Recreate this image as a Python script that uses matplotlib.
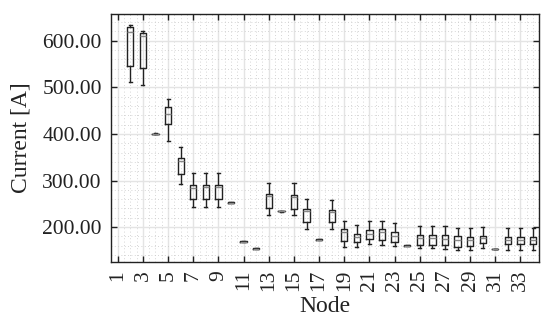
import matplotlib
matplotlib.use("Agg")
from matplotlib import pyplot as plt
from matplotlib.ticker import MultipleLocator, FormatStrFormatter

# per-node box statistics (node 1 has no data)
NODES = list(range(2, 35))
WHISK_HI = [634, 621, 401, 474, 372, 316, 316, 316, 254, 170, 155, 294, 235, 294, 260, 174,
            259, 214, 204, 213, 214, 209, 161, 203, 203, 202, 198, 198, 201, 153, 198, 198, 198]
Q3 = [629, 616, 400.5, 457, 348, 290, 290, 290, 253.5, 169.8, 154.8, 271, 234.8, 269, 238, 173.9,
      237, 196, 185, 193, 195, 190, 161, 184, 184, 183, 180, 179, 182, 153.3, 179, 179, 179]
MEDIAN = [619, 609, 400, 442, 341, 285, 286, 287, 252.5, 169, 154, 266, 234, 264, 234, 173.4,
          233, 190, 179, 186, 190, 181, 160.5, 176, 176, 175, 173, 173, 176, 152.8, 173, 173, 173]
Q1 = [546, 541, 399.5, 421, 314, 260, 260, 260, 251.5, 168.2, 153.2, 241, 233.8, 239, 210, 172.9,
      210, 171, 169, 174, 172, 168, 160, 162, 162, 161, 158, 160, 167, 152.3, 164, 164, 164]
WHISK_LO = [512, 504, 399, 384, 293, 243, 243, 243, 251, 168, 153, 226, 233, 226, 197, 172.5,
            197, 158, 157, 164, 161, 160, 159.5, 155, 155, 154, 151, 151, 155, 152, 151, 151, 151]
X_TICKS = list(range(1, 34, 2))
Y_TICKS = [200, 300, 400, 500, 600]

plt.rcParams["font.family"] = "serif"
plt.rcParams["font.serif"] = ["Liberation Serif", "DejaVu Serif"]

fig = plt.figure(figsize=(5.41, 3.21), dpi=100)
ax = fig.add_axes([0.206, 0.185, 0.791, 0.771])

stats = []
for i in range(len(NODES)):
    stats.append({"whislo": WHISK_LO[i], "q1": Q1[i], "med": MEDIAN[i],
                  "q3": Q3[i], "whishi": WHISK_HI[i], "fliers": []})

ax.bxp(stats, positions=NODES, widths=0.5, capwidths=0.25, showfliers=False,
       boxprops=dict(color="#222222", linewidth=1.0),
       whiskerprops=dict(color="#222222", linewidth=1.0),
       capprops=dict(color="#222222", linewidth=1.0),
       medianprops=dict(color="#888888", linewidth=1.0))

ax.set_xlim(0.5, 34.5)
ax.set_ylim(126, 657)
ax.set_xticks(X_TICKS)
ax.set_xticklabels([str(t) for t in X_TICKS], rotation=90)
ax.set_yticks(Y_TICKS)
ax.yaxis.set_major_formatter(FormatStrFormatter("%.2f"))
ax.xaxis.set_minor_locator(MultipleLocator(0.5))
ax.yaxis.set_minor_locator(MultipleLocator(20))

ax.grid(which="major", color="#e4e4e4", linewidth=1.0, linestyle="-")
ax.grid(which="minor", color="#c8c8c8", linewidth=0.6, linestyle=(0, (1, 3)))
ax.set_axisbelow(True)

ax.tick_params(which="major", direction="in", top=True, right=True, length=4, width=1.0,
               labelsize=15.5, colors="#222222")
ax.tick_params(axis="x", which="major", pad=6)
ax.tick_params(axis="y", which="major", pad=7)
ax.tick_params(which="minor", length=0, top=True, right=True)
for s in ax.spines.values():
    s.set_color("#222222")
    s.set_linewidth(1.0)

ax.set_xlabel("Node", fontsize=17, color="#222222", labelpad=3)
ax.set_ylabel("Current [A]", fontsize=17, color="#222222", labelpad=8)

fig.savefig("out.png", dpi=100)
